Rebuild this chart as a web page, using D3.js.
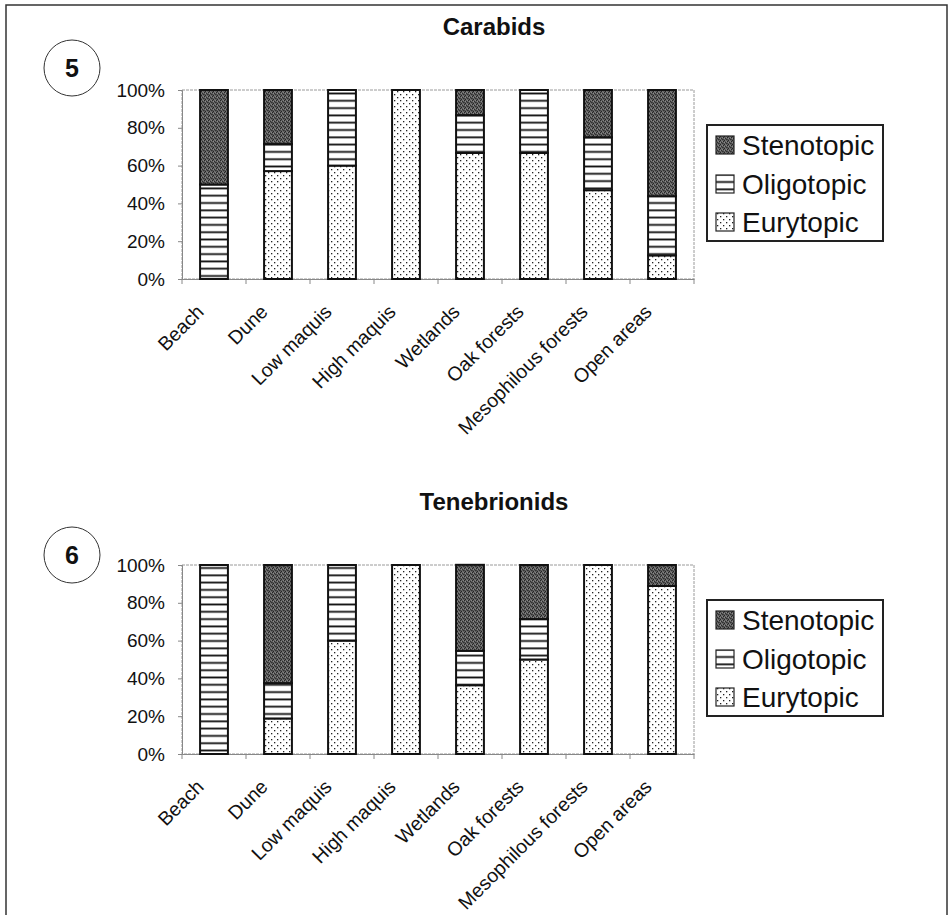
<!DOCTYPE html>
<html>
<head>
<meta charset="utf-8">
<script src="https://cdn.jsdelivr.net/npm/d3@7"></script>
<style>
  html, body { margin: 0; padding: 0; background: #fff; }
  svg { display: block; font-family: "Liberation Sans", Arial, sans-serif; }
</style>
</head>
<body>
<svg id="chart" width="951" height="915"></svg>
<script>
// ---------- DATA ----------
const categories = ["Beach", "Dune", "Low maquis", "High maquis", "Wetlands", "Oak forests", "Mesophilous forests", "Open areas"];
const seriesNames = ["Eurytopic", "Oligotopic", "Stenotopic"];
const legendOrder = ["Stenotopic", "Oligotopic", "Eurytopic"];
const yTicks = [0, 20, 40, 60, 80, 100];

const carabidsEurytopic  = [0, 57.1, 60, 100, 66.7, 66.7, 47, 12.5];
const carabidsOligotopic = [50, 14.3, 40, 0, 20, 33.3, 28, 31.3];
const carabidsStenotopic = [50, 28.6, 0, 0, 13.3, 0, 25, 56.2];

const tenebEurytopic  = [0, 18.8, 60, 100, 36.4, 50, 100, 88.9];
const tenebOligotopic = [100, 18.7, 40, 0, 18.2, 21.4, 0, 0];
const tenebStenotopic = [0, 62.5, 0, 0, 45.5, 28.6, 0, 11.1];

const charts = [
  { title: "Carabids", badge: "5", eury: carabidsEurytopic, oligo: carabidsOligotopic, steno: carabidsStenotopic },
  { title: "Tenebrionids", badge: "6", eury: tenebEurytopic, oligo: tenebOligotopic, steno: tenebStenotopic }
];

// ---------- SETUP ----------
const svg = d3.select("#chart");
const defs = svg.append("defs");

// Stenotopic: dark mottled texture
const pSt = defs.append("pattern").attr("id", "pat-steno").attr("patternUnits", "userSpaceOnUse")
  .attr("width", 4).attr("height", 4);
pSt.append("rect").attr("width", 4).attr("height", 4).attr("fill", "#5e5e5e");
[[0,0,"#262626"],[2,1,"#2c2c2c"],[1,3,"#242424"],[3,2,"#303030"],[1,1,"#8c8c8c"],[3,0,"#858585"],[0,2,"#444"],[2,3,"#777"]]
  .forEach(([x,y,c]) => pSt.append("rect").attr("x", x).attr("y", y).attr("width", 1).attr("height", 1).attr("fill", c));

// Oligotopic: horizontal lines
const pOl = defs.append("pattern").attr("id", "pat-oligo").attr("patternUnits", "userSpaceOnUse")
  .attr("width", 8).attr("height", 7.3);
pOl.append("rect").attr("width", 8).attr("height", 7.3).attr("fill", "#fff");
pOl.append("rect").attr("x", 0).attr("y", 5).attr("width", 8).attr("height", 1.8).attr("fill", "#111");

// Eurytopic: staggered dots
const pEu = defs.append("pattern").attr("id", "pat-eury").attr("patternUnits", "userSpaceOnUse")
  .attr("width", 6).attr("height", 6);
pEu.append("rect").attr("width", 6).attr("height", 6).attr("fill", "#fff");
pEu.append("rect").attr("x", 1).attr("y", 1).attr("width", 1.3).attr("height", 1.3).attr("fill", "#222");
pEu.append("rect").attr("x", 4).attr("y", 4).attr("width", 1.3).attr("height", 1.3).attr("fill", "#222");

const fills = { Stenotopic: "url(#pat-steno)", Oligotopic: "url(#pat-oligo)", Eurytopic: "url(#pat-eury)" };

// outer frame
svg.append("rect").attr("x", 6).attr("y", 5).attr("width", 941).attr("height", 912)
  .attr("fill", "none").attr("stroke", "#333").attr("stroke-width", 1.5);

const layout = [
  { plotTop: 90, titleY: 27, badgeY: 68, legendTop: 125 },
  { plotTop: 565, titleY: 502, badgeY: 555, legendTop: 600 }
];

const plotLeft = 182, plotRight = 694, plotH = 189;

charts.forEach((c, ci) => {
  const L = layout[ci];
  const g = svg.append("g");
  const x = d3.scaleBand().domain(categories).range([plotLeft, plotRight]).paddingInner(0.565).paddingOuter(0.2825);
  const y = d3.scaleLinear().domain([0, 100]).range([L.plotTop + plotH, L.plotTop]);

  // title
  g.append("text").attr("x", 494).attr("y", L.titleY).attr("dy", "0.35em")
    .attr("text-anchor", "middle").attr("font-weight", "bold").attr("font-size", 24).attr("fill", "#111")
    .text(c.title);

  // badge
  g.append("circle").attr("cx", 72).attr("cy", L.badgeY).attr("r", 28)
    .attr("fill", "none").attr("stroke", "#333").attr("stroke-width", 1);
  g.append("text").attr("x", 72).attr("y", L.badgeY).attr("dy", "0.36em")
    .attr("text-anchor", "middle").attr("font-weight", "bold").attr("font-size", 25).attr("fill", "#111")
    .text(c.badge);

  // plot area border (dotted grey)
  g.append("rect").attr("x", plotLeft).attr("y", L.plotTop).attr("width", plotRight - plotLeft).attr("height", plotH)
    .attr("fill", "none").attr("stroke", "#9a9a9a").attr("stroke-width", 1).attr("stroke-dasharray", "3,1");

  // y axis
  const yAxis = d3.axisLeft(y).tickValues(yTicks).tickFormat(d => d + "%").tickSize(4).tickPadding(13);
  const ya = g.append("g").attr("transform", `translate(${plotLeft},0)`).call(yAxis);
  ya.select(".domain").attr("stroke", "#888");
  ya.selectAll(".tick line").attr("stroke", "#888");
  ya.selectAll("text").attr("font-size", 19).attr("fill", "#111").attr("font-family", "Liberation Sans, Arial, sans-serif");

  // x axis: ticks at band boundaries
  const xAxis = d3.axisBottom(x).tickSize(0).tickFormat("");
  const xa = g.append("g").attr("transform", `translate(0,${L.plotTop + plotH})`).call(xAxis);
  xa.select(".domain").attr("stroke", "#888");
  const bounds = categories.map((d) => x(d) - x.step() * x.paddingOuter()).concat([plotRight]);
  xa.selectAll(".bnd").data(bounds).join("line").attr("class", "bnd")
    .attr("x1", d => d).attr("x2", d => d).attr("y1", 0).attr("y2", 5).attr("stroke", "#888");

  // category labels
  g.selectAll(".cat").data(categories).join("text").attr("class", "cat")
    .attr("transform", d => `translate(${x(d) + x.bandwidth() / 2 - 9},${L.plotTop + plotH + 34}) rotate(-45)`)
    .attr("text-anchor", "end").attr("font-size", 19.5).attr("fill", "#111")
    .text(d => d);

  // stacked bars
  const rows = categories.map((cat, i) => ({ cat, Eurytopic: c.eury[i], Oligotopic: c.oligo[i], Stenotopic: c.steno[i] }));
  const stacked = d3.stack().keys(seriesNames)(rows);
  stacked.forEach(layer => {
    g.append("g").selectAll("rect").data(layer.filter(d => d[1] - d[0] > 0)).join("rect")
      .attr("x", d => x(d.data.cat))
      .attr("width", x.bandwidth())
      .attr("y", d => y(d[1]))
      .attr("height", d => y(d[0]) - y(d[1]))
      .attr("fill", fills[layer.key])
      .attr("stroke", "#111").attr("stroke-width", 2);
  });

  // legend
  const lg = g.append("g").attr("transform", `translate(707,${L.legendTop})`);
  lg.append("rect").attr("width", 176).attr("height", 116).attr("fill", "#fff")
    .attr("stroke", "#222").attr("stroke-width", 2);
  const rowsY = [20, 59, 97];
  legendOrder.forEach((k, i) => {
    lg.append("rect").attr("x", 9).attr("y", rowsY[i] - 9).attr("width", 18).attr("height", 18)
      .attr("fill", fills[k]).attr("stroke", "#222").attr("stroke-width", 1.2);
    lg.append("text").attr("x", 35).attr("y", rowsY[i]).attr("dy", "0.36em")
      .attr("font-size", 28).attr("fill", "#111").text(k);
  });
});
</script>
</body>
</html>
